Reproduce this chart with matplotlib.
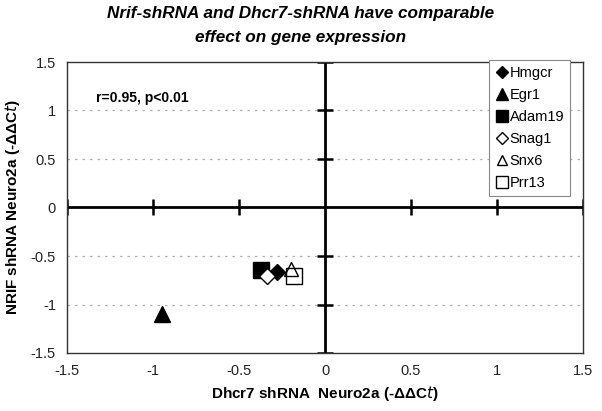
import numpy as np
import matplotlib.pyplot as plt

plt.rcParams['font.family'] = ['Liberation Sans', 'DejaVu Sans']

genes = ['Hmgcr', 'Egr1', 'Adam19', 'Snag1', 'Snx6', 'Prr13']
dhcr7 = [-0.28, -0.95, -0.375, -0.34, -0.20, -0.18]
nrif = [-0.67, -1.10, -0.64, -0.71, -0.635, -0.71]
markers = ['D', '^', 's', 'D', '^', 's']
filled = [True, True, True, False, False, False]
sizes = [8, 11, 11, 8, 10, 11]
layer = [3, 3, 3, 3, 4, 3]

ticks = [-1.5, -1, -0.5, 0, 0.5, 1, 1.5]
tick_labels = ['-1.5', '-1', '-0.5', '0', '0.5', '1', '1.5']

fig = plt.figure(figsize=(6.02, 4.11), dpi=100)
ax = fig.add_axes([67 / 602, 1 - 353 / 411, 516 / 602, 291 / 411])
ax.set_xlim(-1.5, 1.5)
ax.set_ylim(-1.5, 1.5)

# dashed horizontal gridlines
for t in ticks[1:-1]:
    if t != 0:
        ax.axhline(t, color='#b0b0b0', lw=0.9, ls=(0, (2, 4)), zorder=0)

# central axes
ax.axhline(0, color='black', lw=2, zorder=1)
ax.axvline(0, color='black', lw=2, zorder=1)
tx = [t for t in ticks if t != 0]
ax.plot(tx, [0] * len(tx), ls='none', marker='|', ms=12, mew=1.8, color='black', zorder=1)
ax.plot([0] * len(tx), tx, ls='none', marker='_', ms=12, mew=1.8, color='black', zorder=1)

for g, x, y, m, f, s, z in zip(genes, dhcr7, nrif, markers, filled, sizes, layer):
    ax.plot(x, y, ls='none', marker=m, ms=s, mew=1.0,
            mfc='black' if f else ('none' if z > 3 else 'white'), mec='black',
            label=g, zorder=z)

ax.set_xticks(ticks)
ax.set_xticklabels(tick_labels)
ax.set_yticks(ticks)
ax.set_yticklabels(tick_labels)
ax.tick_params(length=0, labelsize=10.5, pad=8, colors='#222222')
for sp in ax.spines.values():
    sp.set_color('#333333')
    sp.set_linewidth(1.0)

ax.text(-1.33, 1.13, 'r=0.95, p<0.01', fontsize=10, fontweight='bold', va='center')

ax.set_xlabel('Dhcr7 shRNA  Neuro2a (-ΔΔC$\\it{t}$)', fontsize=11, fontweight='bold', labelpad=4)
ax.set_ylabel('NRIF shRNA Neuro2a (-ΔΔC$\\it{t}$)', fontsize=11, fontweight='bold', labelpad=6)
fig.suptitle('Nrif-shRNA and Dhcr7-shRNA have comparable\neffect on gene expression',
             fontsize=12.3, fontweight='bold', fontstyle='italic', y=0.985, x=0.5,
             linespacing=1.75)

leg = ax.legend(loc='upper right', bbox_to_anchor=(503 / 516, 1.007),
                frameon=True, fancybox=False, fontsize=10.5, handletextpad=0.1,
                handlelength=0.9, labelspacing=0.55, borderpad=0.4, borderaxespad=0,
                markerscale=0.75)
leg.get_frame().set_edgecolor('#888888')
leg.get_frame().set_linewidth(0.8)
leg.get_frame().set_alpha(1)

fig.savefig('out.png', dpi=100)
